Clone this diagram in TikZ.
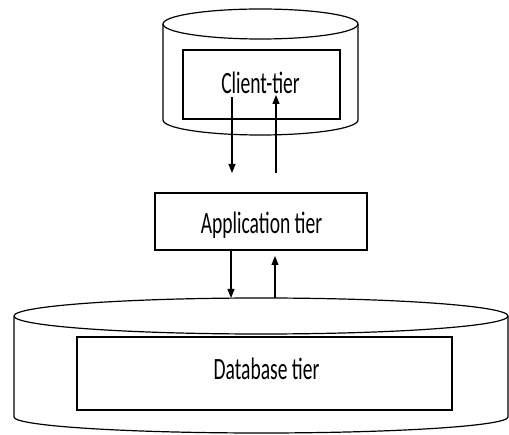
\documentclass[tikz,border=0pt]{standalone}
\usepackage{fontspec}
\setmainfont{Carlito}
\usetikzlibrary{arrows.meta}
\tikzset{
  line/.style={draw=black, line width=1.2pt},
  tierbox/.style={line, rectangle, inner sep=0pt, minimum width=#1},
  lbl/.style={anchor=base, inner sep=0pt, font=\fontsize{31}{32}\selectfont},
  flow/.style={line, -{Triangle[length=9pt,width=7pt]}},
}
\newcommand{\sq}[1]{\scalebox{0.63}[1]{#1}}
\begin{document}
\begin{tikzpicture}[x=1pt,y=-1pt]
\useasboundingbox (0,0) rectangle (509,435);
% top cylinder
\draw[line] (163,24) arc[start angle=180,end angle=540,x radius=97.5,y radius=15];
\draw[line] (163,24) -- (163,120) arc[start angle=180,end angle=0,x radius=97.5,y radius=15] -- (358,24);
% bottom cylinder
\draw[line] (14,316) arc[start angle=180,end angle=540,x radius=247,y radius=18];
\draw[line] (14,316) -- (14,417) arc[start angle=180,end angle=0,x radius=247,y radius=16] -- (508,316);
% boxes
\node[tierbox=157pt, minimum height=69pt] (client) at (261.5,84.5) {};
\node[tierbox=212pt, minimum height=57pt] (app) at (261,221.5) {};
\node[tierbox=375pt, minimum height=73pt] (db) at (264.5,373.5) {};
% labels
\node[lbl] (clientlbl) at (260.5,94) {\sq{Client-tier}};
\node[lbl] (applbl) at (261.5,234) {\sq{Application tier}};
\node[lbl] (dblbl) at (266.5,380) {\sq{Database tier}};
% arrow end points
\coordinate (c1) at (232,97);
\coordinate (c2) at (232,173);
\coordinate (c3) at (276,173);
\coordinate (c4) at (276,95);
\coordinate (a1) at (231,250);
\coordinate (a2) at (231,298);
\coordinate (a3) at (275,298);
\coordinate (a4) at (275,256);
\draw[flow] (c1) -- (c2);
\draw[flow] (c3) -- (c4);
\draw[flow] (a1) -- (a2);
\draw[flow] (a3) -- (a4);
\end{tikzpicture}
\end{document}
